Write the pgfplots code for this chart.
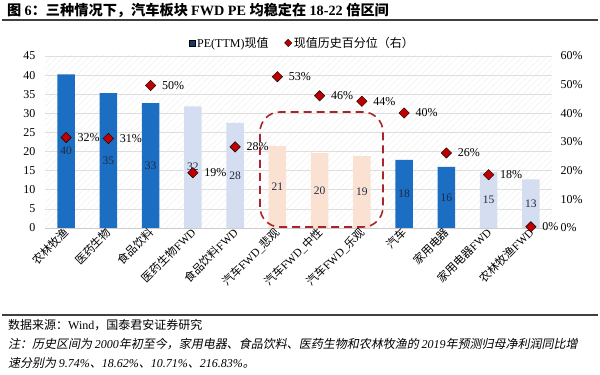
\documentclass[border=0pt]{standalone}
\usepackage{pgfplots}
\pgfplotsset{compat=1.18}
\usepackage{pgfplotstable}
\usetikzlibrary{patterns.meta}
\usepackage{fontspec}
\setmainfont{Liberation Serif}
\newfontfamily\cjk{Noto Sans CJK SC}
\newfontfamily\cjkit[FakeSlant=0.2]{Noto Sans CJK SC}
\definecolor{darkblue}{HTML}{1B6EC2}
\definecolor{lightblue}{HTML}{D5DDF0}
\definecolor{peach}{HTML}{FBE1D2}
\definecolor{markred}{HTML}{C00000}
\definecolor{boxred}{HTML}{A8262B}
\definecolor{lblnavy}{HTML}{1F2A44}

\pgfplotstableread{
x pe pct lbl plbl
0 40.2 31.6 40 32
1 35.3 31.2 35 31
2 32.7 49.7 33 50
3 31.8 19.3 32 19
4 27.5 28.3 28 28
5 21.5 52.8 21 53
6 19.6 46.1 20 46
7 18.8 44.2 19 44
8 17.8 40.1 18 40
9 16.0 26.2 16 26
10 14.6 18.6 15 18
11 12.7 0.4 13 0
}\data

\newcommand{\fs}{\fontsize{12}{14}\selectfont}
\newcommand{\fx}{\fontsize{11.3}{13}\selectfont}
\newcommand{\fl}{\fontsize{11.5}{13}\selectfont}

\begin{document}
\begin{tikzpicture}[x=1pt,y=1pt]
\useasboundingbox (0,0) rectangle (600,375);

% title and rules
\node[anchor=west, inner sep=0pt, font=\bfseries\fontsize{14.2}{16}\selectfont] at (7,365)
  {{\cjk\bfseries 图 }6{\cjk\bfseries ：三种情况下，汽车板块 }FWD PE {\cjk\bfseries 均稳定在 }18-22 {\cjk\bfseries 倍区间}};
\draw[line width=2pt, black!75] (2,355) -- (598,355);
\draw[line width=1.5pt, black!75] (2,60) -- (598,60);

\begin{axis}[
  at={(45pt,147pt)}, anchor=south west,
  scale only axis, width=507pt, height=172pt,
  xmin=-0.5, xmax=11.5, ymin=0, ymax=45,
  ytick={0,5,...,45},
  xtick={0,...,11},
  xticklabels={{\cjk 农林牧渔},{\cjk 医药生物},{\cjk 食品饮料},{\cjk 医药生物}FWD,{\cjk 食品饮料}FWD,{\cjk 汽车}FWD\_{\cjk 悲观},{\cjk 汽车}FWD\_{\cjk 中性},{\cjk 汽车}FWD\_{\cjk 乐观},{\cjk 汽车},{\cjk 家用电器},{\cjk 家用电器}FWD,{\cjk 农林牧渔}FWD},
  x tick label style={rotate=45, anchor=east, font=\fx, inner sep=1pt},
  y tick label style={font=\fs},
  /pgf/number format/assume math mode=true,
  major tick length=0pt,
  separate axis lines,
  axis x line*=bottom,
  axis y line*=left,
  x axis line style={draw=black!20, line width=0.8pt},
  y axis line style={draw=none},
  ymajorgrids,
  grid style={draw=black!13, line width=0.7pt},
  axis background/.style={pattern={Lines[angle=45,distance=4.5pt,line width=0.5pt]}, pattern color=black!6},
  yticklabel style={xshift=-6pt},
  xticklabel style={yshift=-2pt},
]
\addplot[ybar, bar width=17.5pt, bar shift=0pt, fill=darkblue, draw=none] coordinates {(0,40.2) (1,35.3) (2,32.7) (8,17.8) (9,16.0)};
\addplot[ybar, bar width=17.5pt, bar shift=0pt, fill=lightblue, draw=none] coordinates {(3,31.8) (4,27.5) (10,14.6) (11,12.7)};
\addplot[ybar, bar width=17.5pt, bar shift=0pt, fill=peach, draw=none] coordinates {(5,21.5) (6,19.6) (7,18.8)};
\addplot[draw=none, mark=none, nodes near coords, point meta=explicit symbolic,
  every node near coord/.style={anchor=center, font=\fl, text=lblnavy}]
  table[x=x, y expr=\thisrow{pe}/2, meta=lbl] \data;
\end{axis}

\begin{axis}[
  at={(45pt,147pt)}, anchor=south west,
  scale only axis, width=507pt, height=172pt,
  xmin=-0.5, xmax=11.5, ymin=0, ymax=60,
  axis x line=none,
  axis y line*=right,
  y axis line style={draw=none},
  ytick={0,10,...,60},
  yticklabel={\pgfmathprintnumber{\tick}\%},
  y tick label style={font=\fs, xshift=5pt},
  /pgf/number format/assume math mode=true,
  major tick length=0pt,
  clip=false,
  legend style={at={(0.508,1.076)}, anchor=center, draw=none, fill=none, legend columns=2,
    font=\fs, /tikz/every even column/.append style={column sep=14pt}},
  legend cell align=left,
]
\addlegendimage{only marks, mark=square*, mark size=3pt, mark options={fill=darkblue!55!black, draw=none}}
\addlegendentry{PE(TTM){\cjk 现值}}
\addplot[only marks, mark=square*, mark size=3.7pt, mark options={rotate=45, fill=markred, draw=none},
  legend image post style={mark size=2.6pt},
  nodes near coords={\pgfmathprintnumber{\pgfplotspointmeta}\%}, point meta=explicit,
  every node near coord/.style={anchor=west, xshift=8pt, font=\fs, text=black}]
  table[x=x, y=pct, meta=plbl] \data;
\addlegendentry{{\cjk 现值历史百分位（右）}}
\end{axis}

% dashed rounded box
\draw[boxred, line width=1.6pt, dash pattern=on 8pt off 5pt, rounded corners=20pt] (260,148) rectangle (383,263);

% source and notes
\node[anchor=west, inner sep=0pt, font=\fs] at (8,50) {{\cjk 数据来源：}Wind{\cjk ，国泰君安证券研究}};
\node[anchor=west, inner sep=0pt, font=\fs\itshape] at (8,31) {{\cjkit 注：历史区间为 }2000{\cjkit  年初至今，家用电器、食品饮料、医药生物和农林牧渔的 }2019{\cjkit  年预测归母净利润同比增}};
\node[anchor=west, inner sep=0pt, font=\fs\itshape] at (8,12) {{\cjkit 速分别为 }9.74\%{\cjkit 、}18.62\%{\cjkit 、}10.71\%{\cjkit 、}216.83\%{\cjkit 。}};
\end{tikzpicture}
\end{document}
